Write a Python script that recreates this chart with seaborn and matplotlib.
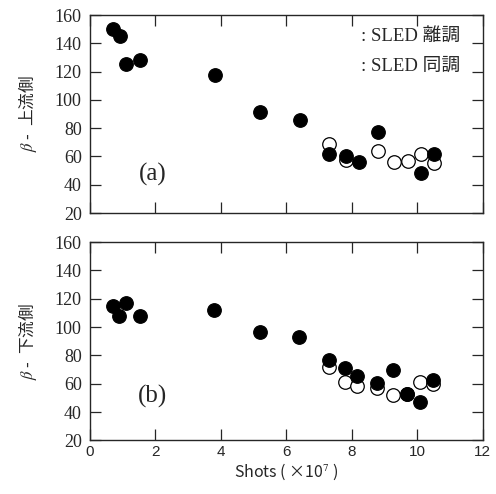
import matplotlib
matplotlib.use("Agg")
import matplotlib.pyplot as plt
import seaborn as sns
import pandas as pd

# panel (a): upstream
a_off_x = [0.71, 0.92, 1.10, 1.53, 3.82, 5.19, 6.41, 7.31, 7.82, 8.21, 8.80, 10.11, 10.50]
a_off_y = [150, 145.5, 125.5, 128.5, 117.5, 91.5, 85.5, 61.5, 60, 55.8, 77.5, 48, 61.7]
a_on_x = [7.31, 7.82, 8.80, 9.29, 9.72, 10.11, 10.50]
a_on_y = [68.8, 57.5, 63.8, 55.8, 56.5, 61.7, 55.6]

# panel (b): downstream
b_off_x = [0.71, 0.90, 1.10, 1.53, 3.79, 5.19, 6.38, 7.29, 7.79, 8.17, 8.78, 9.26, 9.67, 10.08, 10.48]
b_off_y = [114.8, 107.7, 117.3, 107.7, 112, 96.7, 92.7, 76.7, 71.3, 65.7, 60.3, 69.7, 52.6, 47, 62.7]
b_on_x = [7.29, 7.79, 8.17, 8.78, 9.26, 9.67, 10.08, 10.48]
b_on_y = [72, 61.5, 58.5, 56.8, 52, 52.6, 61.5, 59.9]

x_ticks = [0, 2, 4, 6, 8, 10, 12]
y_ticks = [20, 40, 60, 80, 100, 120, 140, 160]
legend_labels = [": SLED 離調", ": SLED 同調"]

sns.set_style("ticks")
plt.rcParams["font.family"] = ["Liberation Serif", "Noto Sans CJK JP"]
plt.rcParams["mathtext.fontset"] = "stix"

serif = ["Liberation Serif", "Noto Sans CJK JP"]
cjk = ["Noto Sans CJK JP", "DejaVu Sans"]

fig = plt.figure(figsize=(4.96, 4.94), dpi=100)
ax_a = fig.add_axes([0.1815, 0.5688, 0.792, 0.4008])
ax_b = fig.add_axes([0.1815, 0.1083, 0.792, 0.4018])

panels = [
    (ax_a, a_off_x, a_off_y, a_on_x, a_on_y, "(a)", "$\\beta$ -  上流側", 47),
    (ax_b, b_off_x, b_off_y, b_on_x, b_on_y, "(b)", "$\\beta$ -  下流側", 51),
]

for ax, ox, oy, nx, ny, tag, ylab, tag_y in panels:
    on = pd.DataFrame({"x": nx, "y": ny})
    off = pd.DataFrame({"x": ox, "y": oy})
    sns.scatterplot(data=on, x="x", y="y", ax=ax, s=95, color="white",
                    edgecolor="black", linewidth=0.9, zorder=3)
    sns.scatterplot(data=off, x="x", y="y", ax=ax, s=95, color="black",
                    edgecolor="black", linewidth=0.9, zorder=4)
    ax.set_xlim(0, 12)
    ax.set_ylim(20, 160)
    ax.set_xticks(x_ticks)
    ax.set_yticks(y_ticks)
    ax.tick_params(direction="in", top=True, right=True, length=8, width=0.9)
    ax.tick_params(axis="y", pad=6)
    for sp in ax.spines.values():
        sp.set_linewidth(1.0)
        sp.set_visible(True)
    ax.set_yticklabels([str(v) for v in y_ticks], fontsize=13, fontfamily="Liberation Serif")
    ax.set_xticklabels([str(v) for v in x_ticks], fontsize=11, fontfamily="Liberation Sans")
    ax.set_xlabel("")
    ax.set_ylabel(ylab, fontsize=12, family=cjk)
    ax.yaxis.set_label_coords(-0.13, 0.5)
    ax.text(1.92, tag_y, tag, fontsize=18, family=serif, ha="center", va="center")

ax_a.tick_params(labelbottom=False)
ax_a.text(8.29, 144.7, legend_labels[0], fontsize=13.5, family=serif, ha="left", va="center")
ax_a.text(8.29, 123.4, legend_labels[1], fontsize=13.5, family=serif, ha="left", va="center")

ax_b.set_xlabel("Shots ( ×10$^7$ )", fontsize=11.5, family=cjk, labelpad=2)

fig.savefig("out.png", dpi=100)
